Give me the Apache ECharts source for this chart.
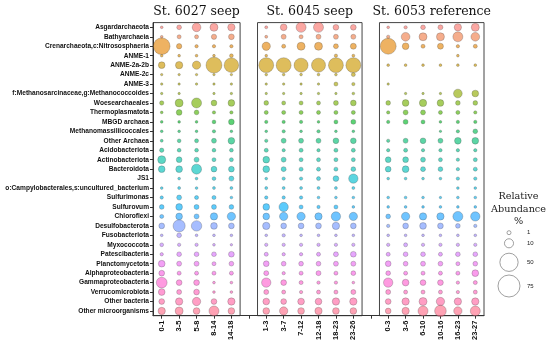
<!DOCTYPE html>
<html><head><meta charset="utf-8">
<script src="https://cdn.jsdelivr.net/npm/echarts@6/dist/echarts.min.js"></script>
<style>html,body{margin:0;padding:0;background:#fff}#c{width:550px;height:348px}</style>
</head><body><div id="c"></div>
<script>
const taxa = ["Asgardarchaeota","Bathyarchaeia","Crenarchaeota,c:Nitrososphaeria","ANME-1","ANME-2a-2b","ANME-2c","ANME-3","f:Methanosarcinaceae,g:Methanococcoides","Woesearchaeales","Thermoplasmatota","MBGD archaea","Methanomassiliicoccales","Other Archaea","Acidobacteriota","Actinobacteriota","Bacteroidota","JS1","o:Campylobacterales,s:uncultured_bacterium","Sulfurimonas","Sulfurovum","Chloroflexi","Desulfobacterota","Fusobacteriota","Myxococcota","Patescibacteria","Planctomycetota","Alphaproteobacteria","Gammaproteobacteria","Verrucomicrobiota","Other bacteria","Other microorganisms"];

const stations = ["St. 6027 seep","St. 6045 seep","St. 6053 reference"];
const depths6027 = ["0-1","3-5","5-8","8-14","14-18"];
const depths6045 = ["1-3","3-7","7-12","12-18","18-23","23-26"];
const depths6053 = ["0-3","3-6","6-10","10-16","16-23","23-27"];

// relative abundance (%) per taxon (rows) and depth (columns)
const vals6027 = [
[0.2,1.7,9,7.3,5.8],[0.2,1,1,2.4,3],[41,2.4,0.5,0.5,0.5],[0.2,0.2,0.2,0.2,0.8],[4.6,5.8,8,37,30],
[0.1,0.1,0.1,0.1,0.1],[0.1,0.1,0.1,0.1,0.1],[0.1,0.1,null,0.1,0.1],[1.3,7.3,12.6,3,4.6],[0.2,3,1.7,0.5,0.5],
[0.2,0.2,0.2,0.8,3],[0.2,0.2,0.2,0.5,0.2],[0.3,0.8,1,2,4.6],[1.3,0.8,0.8,0.8,0.8],[7.3,3,2,1,1],
[4.6,4.6,12.6,3,3],[null,0.2,0.2,0.8,2],[0.2,0.3,0.2,0.3,0.3],[0.5,2,1,1,0.2],[1.7,4.6,2,2,1.7],
[1,4.6,2,5.8,8],[3,20,14,4.6,3],[0.2,1.7,0.2,0.2,0.2],[0.8,0.5,0.5,0.2,0.1],[0.5,1.7,1.7,1.7,3],
[4.6,2,2,1,1.7],[3,1,1,1,1],[15,3,3,0.2,0.2],[4.6,2,3,0.2,0.2],[3,5.8,8,3,5.8],[5.8,7.3,4.6,12.6,4.6]];
const vals6045 = [
[0.3,4.6,12.6,12.6,3,3],[0.3,2,1,2,2,2],[8,1,7.3,7.3,2,3.4],[0.2,null,null,null,0.5,0.3],[32,32,27.6,27.6,32,32],
[0.2,0.2,0.2,0.2,0.2,1],[0.1,0.1,0.1,0.1,1,0.5],[0.1,0.1,0.1,0.1,0.1,0.2],[1.7,1,1,1,2,3],[1,1,1,1,1,1],
[0.5,0.5,0.5,0.2,1,2],[0.2,0.5,0.2,0.5,0.2,0.2],[0.5,2,2,2,3,3],[1,0.5,1,0.5,1,1],[4.6,2,1,1,1,1],
[4.6,2,1,1,1,1.7],[0.2,0.5,0.5,1,3,10.7],[0.3,0.3,0.3,0.3,0.3,0.3],[0.5,0.5,0.5,0.2,0.2,0.2],[4.6,10.7,1,0.5,1,0.2],
[4.6,8,8,5.8,10.7,8],[5.8,3,3,3,5.8,3],[0.2,0.5,0.2,0.2,0.2,0.2],[0.5,0.5,0.5,0.5,0.5,0.5],[1,0.5,0.5,1,2,3],
[3,1.7,1.7,1.7,2,2],[2,0.5,1,2,1,1.7],[10.7,3,1,0.5,0.5,0.2],[2,1,0.5,1,1,2],[4.6,3,4.6,4.6,5.8,5.8],[4.6,8,4.6,5.8,4.6,4.6]];
const vals6053 = [
[0.2,0.5,1.7,2,5.8,7.3],[0.5,9,7.3,7.3,12.6,9],[37,4.6,1,3.4,0.5,1],[null,null,null,null,0.2,null],[0.2,0.2,0.2,0.2,0.2,0.2],
[null,null,null,null,null,null],[0.1,null,null,null,null,null],[null,0.1,0.1,0.1,9,4.6],[1.7,4.6,5.8,4.6,1.7,1.7],[0.5,2,2,1,1,0.5],
[0.5,2,1,0.2,0.5,0.5],[null,null,null,0.1,0.5,1.7],[0.5,2,3,2,4.6,4.6],[0.5,1,0.5,0.5,0.5,0.5],[3,3,2,1,0.5,1],
[3,4.6,2,1.7,0.5,1],[0.2,0.2,0.2,0.2,0.5,0.5],[null,null,null,null,0.2,0.2],[0.2,0.2,0.2,0.1,0.2,0.2],[0.2,0.2,0.2,0.2,0.2,0.2],
[1.7,8,5.8,5.8,12.6,10.7],[0.5,3,4.6,3,1.7,0.5],[0.2,0.2,0.2,0.2,0.2,0.2],[0.5,1,0.5,0.5,0.5,0.5],[1,1.7,1.7,1,1.7,1.7],
[3,1.7,2,1.7,1,1.7],[1.7,1,1,1,1,4.6],[10.7,4.6,3,3,0.5,1],[2,1,1,1,0.5,1],[3,5.8,7.3,8,5.8,5.8],[3,5.8,12.6,18,8,12.6]];

const legendValues = [1,10,50,75];
const legendLabels = ["1","10","50","75"];

// ---------- layout ----------
const G = {left:153, right:66, top:22.6, bottom:32.3};
const W = 550 - G.left - G.right;
const H = 348 - G.top - G.bottom;

const groups = [depths6027, depths6045, depths6053];
const groupVals = [vals6027, vals6045, vals6053];
const xCats = [];
const starts = [];
groups.forEach((g, i) => {
  if (i > 0) xCats.push(' '.repeat(i));
  starts.push(xCats.length);
  g.forEach(d => xCats.push(d));
});
const NX = xCats.length;

function sizeOf(v) { return 1.65 + 2.35 * Math.sqrt(v); }

function hcl(h, c, l) {
  const hr = h * Math.PI / 180;
  const U = c * Math.cos(hr), V = c * Math.sin(hr);
  const Xn = 95.047, Yn = 100, Zn = 108.883;
  const Y = l > 8 ? Yn * Math.pow((l + 16) / 116, 3) : Yn * l / 903.3;
  const den = Xn + 15 * Yn + 3 * Zn;
  const un = 4 * Xn / den, vn = 9 * Yn / den;
  const u = U / (13 * l) + un, v = V / (13 * l) + vn;
  const X = 9 * Y * u / (4 * v);
  const Z = -X / 3 - 5 * Y + 3 * Y / v;
  const x = X / 100, y = Y / 100, z = Z / 100;
  const r = 3.240479 * x - 1.537150 * y - 0.498535 * z;
  const g = -0.969256 * x + 1.875992 * y + 0.041556 * z;
  const b = 0.055648 * x - 0.204043 * y + 1.057311 * z;
  const gam = t => { t = t <= 0.0031308 ? 12.92 * t : 1.055 * Math.pow(t, 1 / 2.4) - 0.055; return Math.round(255 * Math.min(1, Math.max(0, t))); };
  return [gam(r), gam(g), gam(b)];
}
const N = taxa.length;
const colors = taxa.map((_, i) => { const c = hcl(15 + 360 * i / N, 100, 65); return 'rgba(' + c.join(',') + ',0.8)'; });

const grids = [{left:G.left, right:G.right, top:G.top, bottom:G.bottom, show:false}];
const xAxes = [{
  type:'category', data:xCats, gridIndex:0, boundaryGap:true,
  axisLine:{show:true, lineStyle:{color:'#333', width:1}},
  axisTick:{show:true, alignWithLabel:true, length:3, lineStyle:{color:'#333'}},
  axisLabel:{rotate:90, margin:5, fontSize:7.5, fontWeight:'bold', color:'#111', fontFamily:'Liberation Sans', interval:0},
  splitLine:{show:false}
}];
const yAxes = [{
  type:'category', data:taxa, gridIndex:0, inverse:true, boundaryGap:true,
  axisLine:{show:true, lineStyle:{color:'#333', width:1}},
  axisTick:{show:true, alignWithLabel:true, length:3, lineStyle:{color:'#333'}},
  axisLabel:{margin:4, fontSize:6.6, fontWeight:'bold', color:'#111', fontFamily:'Liberation Sans', interval:0},
  splitLine:{show:false}
}];
const graphics = [];
groups.forEach((g, i) => {
  const l = G.left + W * starts[i] / NX;
  const w = W * g.length / NX;
  grids.push({left:l, width:w, top:G.top, height:H, show:true, borderColor:'#444', borderWidth:1, backgroundColor:'transparent'});
  xAxes.push({type:'value', gridIndex:i + 1, show:false});
  yAxes.push({type:'value', gridIndex:i + 1, show:false});
  graphics.push({type:'text', x:l + w / 2, y:12, style:{text:stations[i], textAlign:'center', textVerticalAlign:'middle', font:'12.5px "DejaVu Serif"', fill:'#111'}});
});

const series = groups.map((g, i) => {
  const data = [];
  groupVals[i].forEach((row, r) => row.forEach((v, c) => { if (v != null) data.push([starts[i] + c, r, v]); }));
  return {
    type:'scatter', xAxisIndex:0, yAxisIndex:0, data:data,
    symbolSize: val => sizeOf(val[2]),
    itemStyle:{color: p => colors[p.data[1]], borderColor:'rgba(60,60,60,0.55)', borderWidth:0.6},
    emphasis:{disabled:true}, animation:false
  };
});

// legend (size key)
const legX = 509, legTextX = 527;
const legY = [232.7, 243.3, 262.3, 286];
['Relative','Abundance','%'].forEach((t, k) => graphics.push({type:'text', x:518.5, y:196.7 + 12.5 * k,
  style:{text:t, textAlign:'center', textVerticalAlign:'middle', font:'9.7px "DejaVu Serif"', fill:'#222'}}));
legendValues.forEach((v, k) => {
  graphics.push({type:'circle', shape:{cx:legX, cy:legY[k], r:sizeOf(v) / 2}, style:{fill:'#fff', stroke:'#888', lineWidth:0.8}});
  graphics.push({type:'text', x:legTextX, y:legY[k], style:{text:legendLabels[k], textAlign:'left', textVerticalAlign:'middle', font:'6px "Liberation Sans"', fill:'#222'}});
});

const chart = echarts.init(document.getElementById('c'), null, {renderer:'canvas'});
chart.setOption({
  animation:false,
  backgroundColor:'#fff',
  grid:grids, xAxis:xAxes, yAxis:yAxes, series:series, graphic:graphics
});
</script>
</body></html>
